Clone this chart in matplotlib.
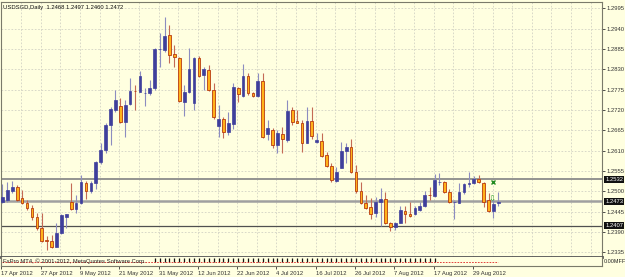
import numpy as np
import pandas as pd
import matplotlib
matplotlib.use('Agg')
import matplotlib.pyplot as plt

plt.rcParams['font.family'] = ['Liberation Sans', 'DejaVu Sans']

# --- data ---
opens = [1.2471, 1.2477, 1.2502, 1.2513, 1.2481, 1.2469, 1.2454, 1.2431, 1.2400, 1.2368,
         1.2366, 1.2350, 1.2386, 1.2431, 1.2470, 1.2451, 1.2468, 1.2523, 1.2501, 1.2522,
         1.2578, 1.2612, 1.2679, 1.2720, 1.2731, 1.2688, 1.2736, 1.2772, 1.2769, 1.2765,
         1.2765, 1.2779, 1.2884, 1.2882, 1.2923, 1.2871, 1.2860, 1.2742, 1.2769, 1.2738,
         1.2860, 1.2815, 1.2828, 1.2774, 1.2677, 1.2695, 1.2661, 1.2682, 1.2779, 1.2758,
         1.2812, 1.2765, 1.2759, 1.2798, 1.2654, 1.2666, 1.2625, 1.2654, 1.2639, 1.2720,
         1.2690, 1.2684, 1.2631, 1.2690, 1.2634, 1.2636, 1.2598, 1.2568, 1.2529, 1.2564,
         1.2610, 1.2619, 1.2551, 1.2502, 1.2468, 1.2457, 1.2441, 1.2472, 1.2479, 1.2413,
         1.2403, 1.2415, 1.2447, 1.2440, 1.2438, 1.2449, 1.2459, 1.2491, 1.2488, 1.2525,
         1.2526, 1.2499, 1.2471, 1.2469, 1.2497, 1.2520, 1.2523, 1.2532, 1.2522, 1.2477,
         1.2448, 1.2468]
highs = [1.2520, 1.2525, 1.2529, 1.2517, 1.2504, 1.2477, 1.2463, 1.2441, 1.2441, 1.2379,
         1.2382, 1.2414, 1.2438, 1.2440, 1.2522, 1.2490, 1.2544, 1.2529, 1.2529, 1.2583,
         1.2631, 1.2684, 1.2729, 1.2774, 1.2752, 1.2747, 1.2806, 1.2788, 1.2825, 1.2779,
         1.2801, 1.2887, 1.2928, 1.2972, 1.2950, 1.2896, 1.2864, 1.2788, 1.2887, 1.2864,
         1.2866, 1.2837, 1.2842, 1.2792, 1.2733, 1.2702, 1.2715, 1.2792, 1.2783, 1.2844,
         1.2821, 1.2770, 1.2821, 1.2819, 1.2693, 1.2671, 1.2666, 1.2675, 1.2747, 1.2729,
         1.2720, 1.2693, 1.2729, 1.2729, 1.2657, 1.2657, 1.2607, 1.2577, 1.2567, 1.2633,
         1.2630, 1.2641, 1.2571, 1.2526, 1.2490, 1.2481, 1.2485, 1.2508, 1.2499, 1.2418,
         1.2418, 1.2460, 1.2460, 1.2472, 1.2460, 1.2472, 1.2502, 1.2513, 1.2546, 1.2549,
         1.2529, 1.2505, 1.2477, 1.2522, 1.2523, 1.2551, 1.2541, 1.2544, 1.2526, 1.2496,
         1.2477, 1.2497]
lows = [1.2468, 1.2470, 1.2495, 1.2475, 1.2466, 1.2449, 1.2422, 1.2395, 1.2364, 1.2341,
        1.2346, 1.2349, 1.2384, 1.2400, 1.2449, 1.2441, 1.2465, 1.2478, 1.2496, 1.2506,
        1.2574, 1.2603, 1.2625, 1.2715, 1.2685, 1.2648, 1.2733, 1.2720, 1.2768, 1.2731,
        1.2761, 1.2774, 1.2837, 1.2878, 1.2846, 1.2837, 1.2742, 1.2705, 1.2767, 1.2720,
        1.2809, 1.2774, 1.2772, 1.2696, 1.2648, 1.2643, 1.2652, 1.2668, 1.2742, 1.2756,
        1.2761, 1.2756, 1.2756, 1.2643, 1.2638, 1.2616, 1.2603, 1.2603, 1.2634, 1.2679,
        1.2684, 1.2607, 1.2630, 1.2641, 1.2631, 1.2594, 1.2567, 1.2526, 1.2526, 1.2562,
        1.2576, 1.2549, 1.2495, 1.2466, 1.2451, 1.2424, 1.2431, 1.2406, 1.2411, 1.2393,
        1.2395, 1.2413, 1.2415, 1.2430, 1.2436, 1.2447, 1.2457, 1.2477, 1.2485, 1.2517,
        1.2495, 1.2468, 1.2424, 1.2468, 1.2492, 1.2511, 1.2520, 1.2522, 1.2458, 1.2445,
        1.2427, 1.2460]
closes = [1.2485, 1.2504, 1.2513, 1.2477, 1.2469, 1.2455, 1.2430, 1.2400, 1.2366, 1.2366,
          1.2350, 1.2386, 1.2435, 1.2438, 1.2451, 1.2469, 1.2526, 1.2501, 1.2522, 1.2578,
          1.2612, 1.2679, 1.2723, 1.2747, 1.2688, 1.2733, 1.2772, 1.2771, 1.2812, 1.2766,
          1.2780, 1.2885, 1.2885, 1.2920, 1.2869, 1.2863, 1.2745, 1.2769, 1.2831, 1.2861,
          1.2812, 1.2830, 1.2774, 1.2700, 1.2695, 1.2661, 1.2684, 1.2781, 1.2762, 1.2812,
          1.2767, 1.2759, 1.2798, 1.2646, 1.2671, 1.2625, 1.2657, 1.2641, 1.2717, 1.2688,
          1.2686, 1.2631, 1.2690, 1.2650, 1.2638, 1.2596, 1.2568, 1.2531, 1.2553, 1.2609,
          1.2621, 1.2551, 1.2502, 1.2468, 1.2454, 1.2438, 1.2472, 1.2480, 1.2413, 1.2403,
          1.2415, 1.2449, 1.2440, 1.2433, 1.2454, 1.2460, 1.2490, 1.2490, 1.2531, 1.2526,
          1.2499, 1.2470, 1.2472, 1.2499, 1.2519, 1.2523, 1.2533, 1.2524, 1.2470, 1.2448,
          1.2466, 1.2472]

dates = pd.bdate_range('2012-04-17', periods=len(opens))
price_ticks = [1.2335, 1.2390, 1.2445, 1.2500, 1.2555, 1.2610, 1.2665,
               1.2720, 1.2775, 1.2830, 1.2885, 1.2940, 1.2995]
levels = [1.2532, 1.2473, 1.2407]
level_colors = ['#8a8a8a', '#a0a0a0', '#505050']
level_widths = [1.3, 1.8, 0.9]
order_x = [99.8, 99.8]
order_y = [1.2525, 1.2479]
hist_vals = [0.0] * 31 + [1.0] * 58 + [0.0] * 13
title = 'USDSGD,Daily  1.2468 1.2497 1.2460 1.2472'
copyright_txt = 'FxPro MT4, \u00a9 2001-2012, MetaQuotes Software Corp.'
sub_label = '0.00MFF'

FS = 4.2
bg = '#ffffe0'
W, H = 625, 277
fig = plt.figure(figsize=(W / 100, H / 100), dpi=100, facecolor=bg)

ax = fig.add_axes([1.5 / W, (H - 256.5) / H, 600.5 / W, 254.5 / H], facecolor=bg)
ax2 = fig.add_axes([1.5 / W, (H - 266) / H, 600.5 / W, 9.0 / H], facecolor=bg)

x = np.arange(len(opens))
o = np.array(opens); c = np.array(closes)
h = np.array(highs); l = np.array(lows)
up = c >= o

# wicks
ax.vlines(x[up], l[up], h[up], color='#8c8cc0', lw=0.8, zorder=2)
ax.vlines(x[~up], l[~up], h[~up], color='#c46a55', lw=0.8, zorder=2)
# bodies
ax.bar(x[up], np.maximum(c[up] - o[up], 0.00004), bottom=o[up], width=0.55,
       color='#3f3f9c', edgecolor='#3f3f9c', lw=0.5, zorder=3)
ax.bar(x[~up], np.maximum(o[~up] - c[~up], 0.00004), bottom=c[~up], width=0.55,
       color='#ffb21a', edgecolor='#b83a10', lw=0.6, zorder=3)

for lv, col, lw in zip(levels, level_colors, level_widths):
    ax.axhline(lv, color=col, lw=lw, zorder=1.5)
    ax.annotate(f'{lv:.4f}', xy=(1.0, lv), xycoords=('axes fraction', 'data'),
                xytext=(2.2, 0), textcoords='offset points', va='center', ha='left',
                fontsize=FS, color='white',
                bbox=dict(boxstyle='square,pad=0.15', fc='#111111', ec='none'))

# order markers
ax.plot(order_x[0], order_y[0], marker='x', color='#1f8a1f', ms=3, mew=1.0, zorder=4)
ax.text(order_x[1], order_y[1], '\u21e9', color='#2a9a2a', fontsize=6,
        ha='center', va='center', family='DejaVu Sans', zorder=4)

ax.set_xlim(-0.16, 122.1)
ax.set_ylim(1.23237, 1.30121)

grid_x = np.arange(0, 124, 4) - 0.2
ax.set_xticks(grid_x)
ax.tick_params(axis='x', length=0, labelbottom=False)
ax.yaxis.tick_right()
ax.set_yticks(price_ticks)
ax.set_yticklabels([f'{t:.4f}' for t in price_ticks])
ax.tick_params(axis='y', length=2.2, width=0.6, pad=1, labelsize=FS,
               colors='#333333', direction='out')
ax.grid(True, color='#d2d2c4', lw=0.6, linestyle=(0, (2, 2)))
ax.set_axisbelow(True)
for s in ['left', 'top', 'right']:
    ax.spines[s].set_color('#7a7a6a')
    ax.spines[s].set_linewidth(0.8)
ax.spines['bottom'].set_color('#555555')
ax.spines['bottom'].set_linewidth(2.0)

fig.text(3 / W, 1 - 8 / H, title, fontsize=FS, va='center', ha='left', color='#111111')

# indicator subwindow
ax2.vlines(x, 0, hist_vals, color='#111111', lw=0.9)
ax2.plot(x, np.zeros(len(x)), color='#dd2222', lw=0.6, linestyle=(0, (2, 1.5)))
ax2.set_xlim(-0.16, 122.1)
ax2.set_ylim(-0.85, 1.25)
ax2.set_yticks([])
label_idx = list(range(0, len(dates), 8))
ax2.set_xticks([i - 0.2 for i in label_idx])
ax2.set_xticklabels([f'{dates[i].day} {dates[i]:%b %Y}' for i in label_idx],
                    ha='left', fontsize=FS, color='#333333')
ax2.tick_params(axis='x', length=2.2, width=0.6, pad=1.2, colors='#333333')
for s in ['left', 'right', 'bottom']:
    ax2.spines[s].set_color('#7a7a6a')
    ax2.spines[s].set_linewidth(0.8)
ax2.spines['top'].set_visible(False)
ax2.text(0.003, 0.5, copyright_txt, transform=ax2.transAxes, fontsize=FS,
         va='center', ha='left', color='#222222')
ax2.text(1.003, 0.5, sub_label, transform=ax2.transAxes, fontsize=3.9,
         va='center', ha='left', color='#222222')

fig.savefig('out.png', dpi=100, facecolor=bg)
